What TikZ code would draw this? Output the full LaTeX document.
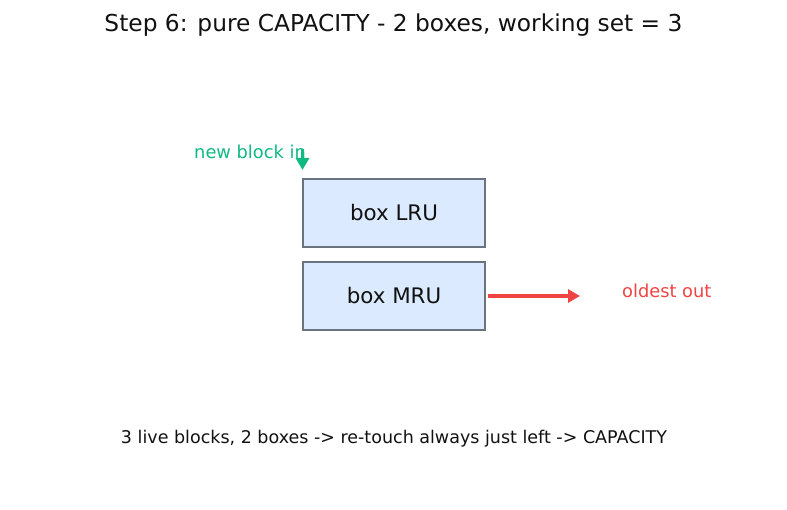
\documentclass[tikz,border=0pt]{standalone}
\usepackage{fontspec}
\setmainfont{DejaVu Sans}
\usetikzlibrary{arrows.meta}
\definecolor{boxfill}{HTML}{DBEAFE}
\definecolor{boxdraw}{HTML}{6B7280}
\definecolor{ingreen}{HTML}{10B981}
\definecolor{outred}{HTML}{EF4444}
\definecolor{txt}{HTML}{111111}
\tikzset{
  x=1pt,y=-1pt,
  cachebox/.style={draw=boxdraw, fill=boxfill, line width=2.2pt, minimum width=182pt, minimum height=68pt, inner sep=0pt, font=\fontsize{21.4}{25}\selectfont, text=txt},
  lbl/.style={inner sep=0pt, font=\fontsize{17.8}{21}\selectfont},
  flow/.style={line width=3.5pt, -{Triangle[length=12pt,width=13pt]}}
}
\begin{document}
\begin{tikzpicture}
\useasboundingbox (0,0) rectangle (787,510);
\node[inner sep=0pt, font=\fontsize{23.3}{28}\selectfont, text=txt] (title) at (393.5,25) {Step 6: pure CAPACITY - 2 boxes, working set = 3};
\node[cachebox] (lru) at (394,213) {box LRU};
\node[cachebox] (mru) at (394,296) {box MRU};
\node[lbl, text=ingreen, anchor=east] (newin) at (306,152) {new block in};
\coordinate (inTop) at (302.5,149);
\coordinate (inTip) at (302.5,170);
\draw[flow, draw=ingreen, fill=ingreen] (inTop) -- (inTip);
\node[lbl, text=outred, anchor=west] (old) at (622,291) {oldest out};
\coordinate (outEnd) at (580,296);
\draw[flow, draw=outred, fill=outred] (mru.east) ++(1.5,0) -- (outEnd);
\node[lbl, text=txt, font=\fontsize{17.5}{21}\selectfont] (note) at (394,439) {3 live blocks, 2 boxes -> re-touch always just left -> CAPACITY};
\end{tikzpicture}
\end{document}
